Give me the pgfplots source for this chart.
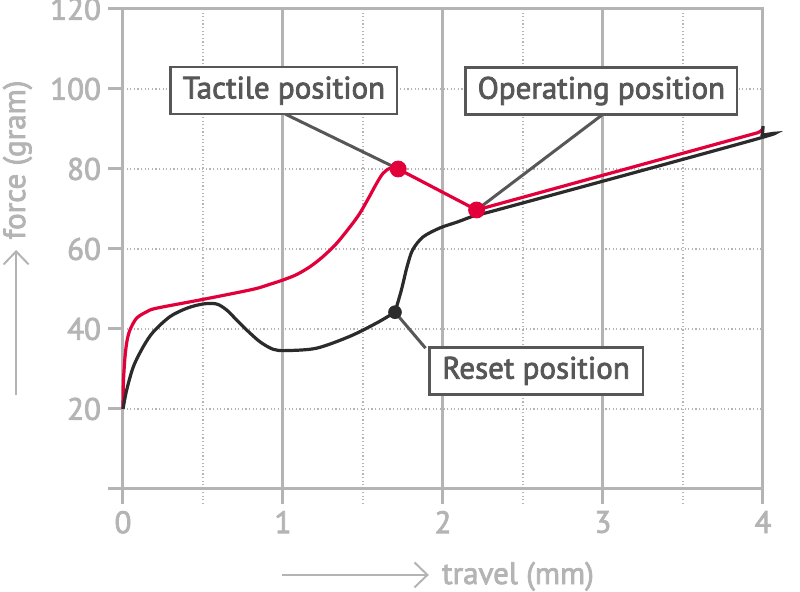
\documentclass[border=0pt]{standalone}
\usepackage{fontspec}
\setmainfont{PT Sans}[FakeBold=2.5]
\usepackage{pgfplots}
\pgfplotsset{compat=1.18}
\usetikzlibrary{arrows.meta}
\definecolor{gridgray}{HTML}{B4B4B4}
\definecolor{curvered}{HTML}{E2003B}
\definecolor{curveblack}{HTML}{2B2B2B}
\definecolor{callout}{HTML}{575757}

\tikzset{
  callbox/.style={draw=callout, line width=1.3pt, fill=white, text=callout,
    font=\fontsize{15.5}{18}\selectfont, minimum height=23.5pt,
    inner xsep=6pt, inner ysep=0pt},
  leader/.style={draw=callout, line width=1.5pt},
  labarrow/.style={draw=gridgray, line width=1pt, -{Straight Barb[length=6.5pt,width=12.5pt]}},
}

\begin{document}
\begin{tikzpicture}
\useasboundingbox (-61.5pt,-51.5pt) rectangle (338.5pt,244.5pt);
\begin{axis}[
  at={(0,0)}, anchor=south west,
  scale only axis, width=320pt, height=240pt,
  xmin=0, xmax=4, ymin=0, ymax=120,
  clip=false,
  axis line style={gridgray, line width=1.5pt},
  xtick={0,1,2,3,4}, minor xtick={0.5,1.5,2.5,3.5},
  ytick={0,20,...,120},
  yticklabels={,20,40,60,80,100,120},
  tick pos=left, tick align=outside,
  major tick length=7.5pt, minor tick length=7.5pt,
  major tick style={gridgray, line width=1.5pt},
  minor tick style={gridgray, line width=0.6pt, dash pattern=on 0.6pt off 1.2pt},
  xmajorgrids, xminorgrids, ymajorgrids,
  major x grid style={gridgray, line width=1.5pt},
  minor x grid style={gridgray, line width=0.6pt, dash pattern=on 0.6pt off 1.2pt},
  major y grid style={gridgray, line width=0.6pt, dash pattern=on 0.6pt off 1.2pt},
  ticklabel style={font=\fontsize{15.5}{18}\selectfont, text=gridgray},
  /pgf/number format/assume math mode=true,
]
% red: press curve
\addplot[curvered, line width=1.6pt, smooth] coordinates {
  (0,20) (0.003,27) (0.0125,33) (0.025,37) (0.044,39.8) (0.085,42.7)
  (0.148,44.3) (0.21,45.2) (0.5,47.4) (0.81,49.9) (0.92,51.2) (1.0,52.25)
  (1.085,53.6) (1.17,55.6) (1.25,58.1) (1.335,61.4) (1.42,65.6) (1.48,68.9)
  (1.54,73.1) (1.585,76.4) (1.625,78.9) (1.67,80.2) (1.72,80)
};
\addplot[curvered, line width=1.6pt] coordinates {
  (1.72,80) (2.21,69.75) (2.36,71.4) (3.97,89.1) (3.99,89.6) (4.0,90.2)
};
% black: release curve
\addplot[curveblack, line width=1.6pt, smooth] coordinates {
  (0,20) (0.023,24.75) (0.065,30.6) (0.127,35.6) (0.19,39.3) (0.294,43.1)
  (0.4,45.2) (0.5,46.25) (0.585,46.25) (0.648,44.75) (0.71,42.25) (0.773,39.75)
  (0.856,36.8) (0.94,34.9) (1.02,34.6) (1.21,35.2) (1.42,38.2) (1.59,41.6)
  (1.70,44.2)
};
\addplot[curveblack, line width=1.6pt, smooth] coordinates {
  (1.70,44.2) (1.74,49.75) (1.775,55.5) (1.81,59.75) (1.875,63) (1.98,65.25)
  (2.09,66.75) (2.21,68.5) (2.36,70) (3.97,87.6) (3.995,88.6) (4.0,90.7)
};
% markers
\addplot[only marks, mark=*, mark size=4pt, curvered] coordinates {(1.72,80) (2.21,69.75)};
\addplot[only marks, mark=*, mark size=3.2pt, curveblack] coordinates {(1.70,44.2)};

% callouts
\draw[leader] (axis cs:1.013,93.75) -- (axis cs:1.72,80);
\draw[leader] (axis cs:2.994,93.5) -- (axis cs:2.21,69.75);
\draw[leader] (axis cs:1.891,35.2) -- (axis cs:1.70,44.2);
\node[callbox, minimum width=113pt] at (axis cs:1.006,99.6) {Tactile position};
\node[callbox, minimum width=135.5pt] at (axis cs:2.99,99.5) {Operating position};
\node[callbox, minimum width=106.8pt] at (axis cs:2.582,29.55) {Reset position};

% axis labels
\draw[labarrow] (axis description cs:0.248,-0.179) -- (axis description cs:0.478,-0.179);
\node[anchor=base west, inner sep=0pt, text=gridgray, font=\fontsize{15.5}{18}\selectfont]
  at (axis description cs:0.498,-0.198) {travel (mm)};
\draw[labarrow] (axis description cs:-0.167,0.196) -- (axis description cs:-0.167,0.498);
\node[anchor=base west, rotate=90, inner sep=0pt, text=gridgray, font=\fontsize{15.5}{18}\selectfont]
  at (axis description cs:-0.153,0.519) {force (gram)};
\end{axis}
\end{tikzpicture}
\end{document}
